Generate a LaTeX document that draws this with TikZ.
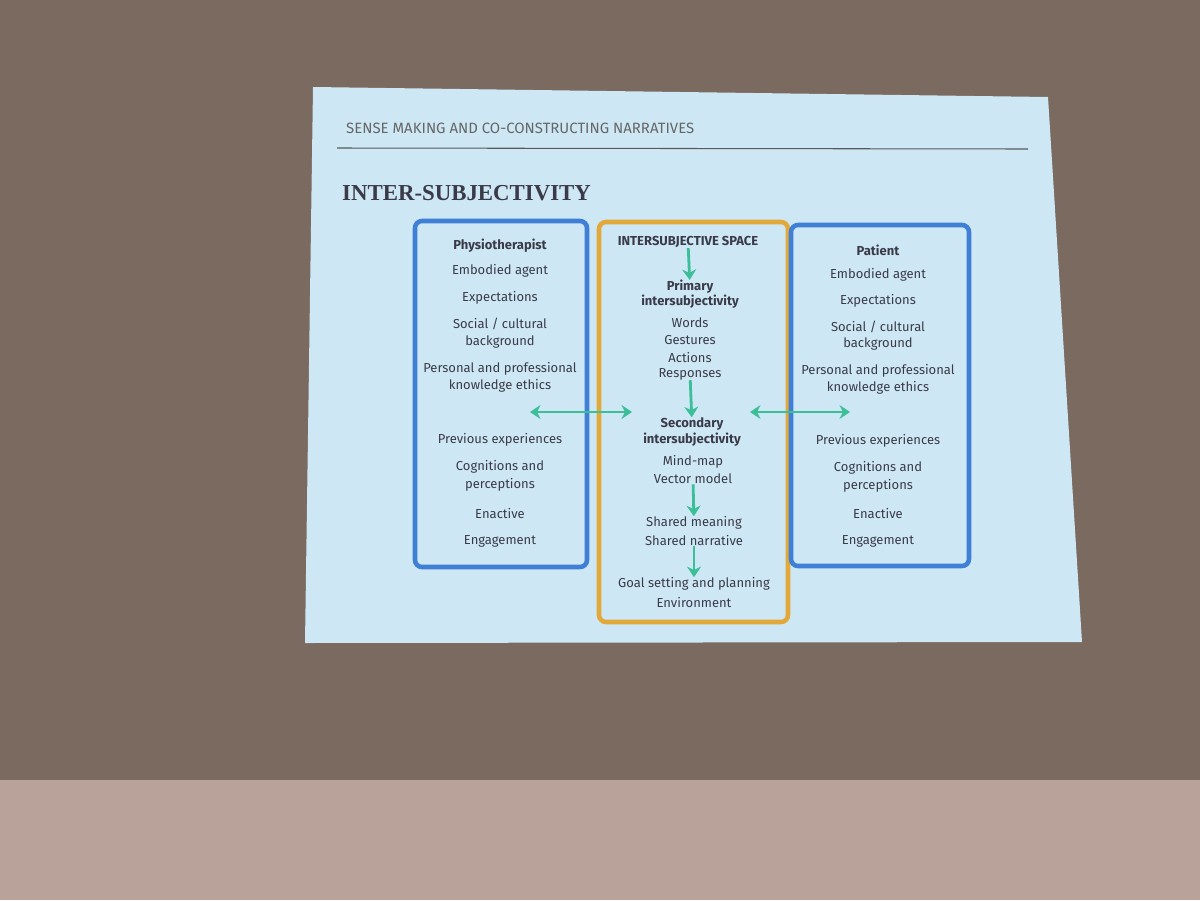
\documentclass[tikz,border=0pt]{standalone}
\usepackage{fontspec}
\setmainfont{Fira Sans}
\newfontfamily\titlefont{Liberation Serif}
\usetikzlibrary{arrows.meta}
\definecolor{wall}{HTML}{7A6A60}
\definecolor{stage}{HTML}{B8A29A}
\definecolor{slide}{HTML}{CDE8F4}
\definecolor{bluebox}{HTML}{3F7FD6}
\definecolor{orangebox}{HTML}{E3A83A}
\definecolor{arrowgreen}{HTML}{3CBF98}
\definecolor{txt}{HTML}{3A3A48}
\tikzset{
  lbl/.style={text=txt,font=\fontsize{7.4}{8}\selectfont,inner sep=0pt},
  blbl/.style={lbl,font=\fontsize{7.4}{8}\selectfont\bfseries},
  panel/.style={line width=2.6pt,rounded corners=4pt},
  garrow/.style={draw=arrowgreen,line width=1.6pt,-{Stealth[length=6pt,width=8pt]}},
  gdarrow/.style={draw=arrowgreen,line width=1.6pt,{Stealth[length=6pt,width=8pt]}-{Stealth[length=6pt,width=8pt]}}
}
\begin{document}
\begin{tikzpicture}[x=0.02cm,y=-0.02cm]
\fill[wall] (0,0) rectangle (1200,900);
\fill[stage] (0,780) rectangle (1200,900);
\fill[slide] (313,87) -- (1048,97) -- (1082,642) -- (305,643) -- cycle;
\node[anchor=west,text=gray!80!black,font=\fontsize{8.5}{9}\selectfont] (hdr) at (340,128) {SENSE MAKING AND CO-CONSTRUCTING NARRATIVES};
\draw[gray!70!black,line width=0.6pt] (337,148) -- (1028,149);
\node[anchor=west,text=txt,font=\titlefont\bfseries\fontsize{13}{14}\selectfont] (ttl) at (336,193) {INTER-SUBJECTIVITY};
\draw[panel,draw=bluebox] (415,221) rectangle (587,567);
\draw[panel,draw=orangebox] (599,222) rectangle (788,622);
\draw[panel,draw=bluebox] (791,225) rectangle (969,566);
% left
\node[blbl] (l1) at (500,246) {Physiotherapist};
\node[lbl] (l2) at (500,271) {Embodied agent};
\node[lbl] (l3) at (500,298) {Expectations};
\node[lbl] (l4) at (500,324) {Social / cultural};
\node[lbl] (l5) at (500,342) {background};
\node[lbl] (l6) at (500,369) {Personal and professional};
\node[lbl] (l7) at (500,386) {knowledge ethics};
\node[lbl] (l8) at (500,440) {Previous experiences};
\node[lbl] (l9) at (500,467) {Cognitions and};
\node[lbl] (l10) at (500,485) {perceptions};
\node[lbl] (l11) at (500,513) {Enactive};
\node[lbl] (l12) at (500,541) {Engagement};
% right
\node[blbl] (r1) at (878,250) {Patient};
\node[lbl] (r2) at (878,275) {Embodied agent};
\node[lbl] (r3) at (878,301) {Expectations};
\node[lbl] (r4) at (878,327) {Social / cultural};
\node[lbl] (r5) at (878,344) {background};
\node[lbl] (r6) at (878,371) {Personal and professional};
\node[lbl] (r7) at (878,388) {knowledge ethics};
\node[lbl] (r8) at (878,441) {Previous experiences};
\node[lbl] (r9) at (878,468) {Cognitions and};
\node[lbl] (r10) at (878,486) {perceptions};
\node[lbl] (r11) at (878,513) {Enactive};
\node[lbl] (r12) at (878,541) {Engagement};
% middle
\node[blbl] (m0) at (688,242) {INTERSUBJECTIVE SPACE};
\node[blbl] (m1) at (690,287) {Primary};
\node[blbl] (m1b) at (690,302) {intersubjectivity};
\node[lbl] (m2a) at (690,323) {Words};
\node[lbl] (m2b) at (690,340) {Gestures};
\node[lbl] (m2c) at (690,357) {Actions};
\node[lbl] (m2) at (690,374) {Responses};
\node[blbl] (m3) at (692,424) {Secondary};
\node[blbl] (m3b) at (692,440) {intersubjectivity};
\node[lbl] (m4a) at (693,462) {Mind-map};
\node[lbl] (m4) at (693,479) {Vector model};
\node[lbl] (m5) at (694,523) {Shared meaning};
\node[lbl] (m5b) at (694,540) {Shared narrative};
\node[lbl] (m6) at (694,584) {Goal setting and planning};
\node[lbl] (m6b) at (694,602) {Environment};
\draw[garrow] (m0) -- (m1);
\draw[garrow] (m2) -- (m3);
\draw[garrow] (m4) -- (m5);
\draw[garrow] (m5b) -- (m6);
\coordinate (a1) at (530,412); \coordinate (a2) at (632,412);
\coordinate (b1) at (750,412); \coordinate (b2) at (850,412);
\draw[gdarrow] (a1) -- (a2);
\draw[gdarrow] (b1) -- (b2);
\end{tikzpicture}
\end{document}
